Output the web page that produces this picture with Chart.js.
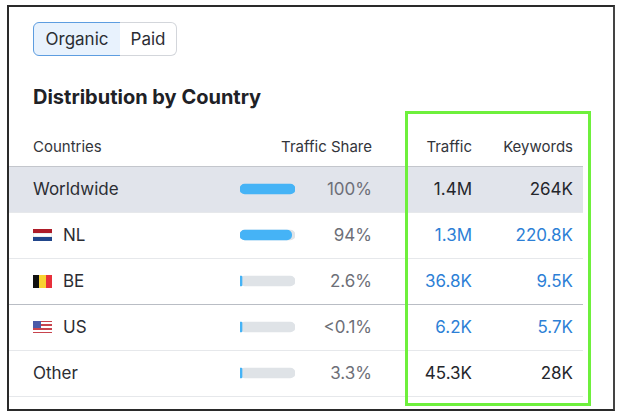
<!DOCTYPE html>
<html>
<head>
<meta charset="utf-8">
<script src="https://cdn.jsdelivr.net/npm/chart.js@4.4.0/dist/chart.umd.min.js"></script>
<style>
  html, body { margin: 0; padding: 0; background: #fff; }
  body { width: 627px; height: 418px; position: relative; overflow: hidden; font-family: Inter, "Noto Sans", sans-serif; color: #2b2d33; }
  .frame { position: absolute; left: 7px; top: 5px; width: 604px; height: 402px; border: 2px solid #2a2a2a; border-right-color: #444; }
  .abs { position: absolute; white-space: nowrap; }
  .btn { position: absolute; top: 22px; height: 34px; line-height: 33px; font-size: 17px; text-align: center; box-sizing: border-box; }
  .hdr { font-size: 15px; color: #33353b; top: 137px; }
  .cell { font-size: 17px; line-height: 20px; }
  .line { position: absolute; left: 9px; width: 574px; height: 1px; background: #e6e8eb; }
  .flag { position: absolute; width: 19px; height: 13px; overflow: hidden; }
</style>
</head>
<body>
<div class="frame"></div>
<div class="btn" style="left:33px;width:88px;background:#e8f2fd;border:1.5px solid #5d9de0;border-radius:6px 0 0 6px;color:#2b2d33;">Organic</div>
<div class="btn" style="left:120px;width:57px;background:#fff;border:1.5px solid #d3d6db;border-left:none;border-radius:0 6px 6px 0;color:#2b2d33;">Paid</div>
<div class="abs" style="left:33px;top:85px;font-size:20px;font-weight:700;color:#202126;">Distribution by Country</div>

<div class="abs hdr" style="left:33px;">Countries</div>
<div class="abs hdr" style="right:255px;">Traffic Share</div>
<div class="abs hdr" style="right:155px;">Traffic</div>
<div class="abs hdr" style="right:54px;">Keywords</div>

<div id="rows"></div>
<div style="position:absolute;left:240px;top:166px;width:55px;height:230px;">
  <canvas id="share"></canvas>
</div>
<div style="position:absolute;left:405px;top:111px;width:180px;height:289px;border:3px solid #6ef03c;"></div>

<script>
const countries = ["Worldwide", "NL", "BE", "US", "Other"];
const flags = [null, "nl", "be", "us", null];
const shares = [100, 94, 2.6, 0.1, 3.3];
const shareLabels = ["100%", "94%", "2.6%", "<0.1%", "3.3%"];
const traffic = ["1.4M", "1.3M", "36.8K", "6.2K", "45.3K"];
const keywords = ["264K", "220.8K", "9.5K", "5.7K", "28K"];
const linked = [false, true, true, true, false];

const rowTop = 166, rowH = 46;
const rows = document.getElementById("rows");

function flagHtml(code, top) {
  let inner = "";
  if (code === "nl") {
    inner = '<div style="height:4.33px;background:#ae1c28"></div><div style="height:4.33px;background:#fff;box-shadow:inset 0 0 0 0.5px #ddd"></div><div style="height:4.34px;background:#21468b"></div>';
  } else if (code === "be") {
    inner = '<div style="display:flex;height:13px"><div style="flex:1;background:#111"></div><div style="flex:1;background:#f8d230"></div><div style="flex:1;background:#e8303a"></div></div>';
  } else if (code === "us") {
    let s = "";
    for (let i = 0; i < 7; i++) s += '<div style="height:1.857px;background:' + (i % 2 ? "#fff" : "#c8444e") + '"></div>';
    inner = s + '<div style="position:absolute;left:0;top:0;width:8px;height:7px;background:#4a5aa8"></div>';
  }
  return '<div class="flag" style="left:33px;top:' + top + 'px">' + inner + '</div>';
}

let html = "";
countries.forEach(function (c, i) {
  const top = rowTop + i * rowH;
  const mid = top + rowH / 2;
  if (i === 0) html += '<div style="position:absolute;left:9px;top:' + top + 'px;width:574px;height:' + rowH + 'px;background:#e1e4eb"></div>';
  const textLeft = flags[i] ? 63 : 33;
  if (flags[i]) html += flagHtml(flags[i], mid - 6.5);
  html += '<div class="abs cell" style="left:' + textLeft + 'px;top:' + (mid - 10) + 'px">' + c + '</div>';
  html += '<div class="abs cell" style="right:255px;top:' + (mid - 10) + 'px;color:#6d6f78">' + shareLabels[i] + '</div>';
  const col = linked[i] ? "#2d7fd6" : "#24262b";
  html += '<div class="abs cell" style="right:155px;top:' + (mid - 10) + 'px;color:' + col + '">' + traffic[i] + '</div>';
  html += '<div class="abs cell" style="right:54px;top:' + (mid - 10) + 'px;color:' + col + '">' + keywords[i] + '</div>';
  const lineTop = top + rowH;
  const dark = (i === 2);
  html += '<div class="line" style="top:' + lineTop + 'px;background:' + (dark ? "#b9bdc4" : "#e6e8eb") + '"></div>';
});
html += '<div class="line" style="top:' + rowTop + 'px;background:#c3c6cc"></div>';
rows.innerHTML = html;

new Chart(document.getElementById("share"), {
  type: "bar",
  data: {
    labels: countries,
    datasets: [
      {
        data: shares,
        backgroundColor: "#45b3f6",
        barThickness: 10,
        borderRadius: 5,
        borderSkipped: false,
        minBarLength: 2,
        grouped: false,
        order: 0
      },
      {
        data: countries.map(function () { return 100; }),
        backgroundColor: "#dfe3e7",
        barThickness: 10,
        borderRadius: 5,
        borderSkipped: false,
        grouped: false,
        order: 1
      }
    ]
  },
  options: {
    indexAxis: "y",
    responsive: true,
    maintainAspectRatio: false,
    animation: false,
    layout: { padding: 0 },
    scales: {
      x: { display: false, min: 0, max: 100 },
      y: { display: false }
    },
    plugins: { legend: { display: false }, tooltip: { enabled: false } }
  }
});
</script>
</body>
</html>
